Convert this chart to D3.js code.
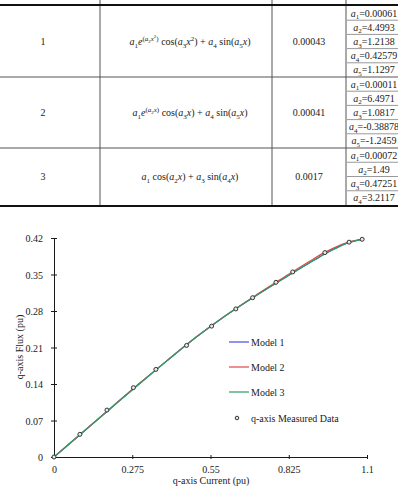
<!DOCTYPE html>
<html>
<head>
<meta charset="utf-8">
<script src="https://cdn.jsdelivr.net/npm/d3@7"></script>
<style>
  body { margin: 0; background: #fff; }
  svg { display: block; font-family: "Liberation Serif", "Times New Roman", serif; }
</style>
</head>
<body>
<svg width="398" height="486"></svg>
<script>
// table data
const modelIds = ["1", "2", "3"];
const formulas = [
  "a_1e^{(a_2x^2)} cos(a_3x^2) + a_4 sin(a_5x)",
  "a_1e^{(a_2x)} cos(a_3x) + a_4 sin(a_5x)",
  "a_1 cos(a_2x) + a_3 sin(a_4x)"
];
const errors = ["0.00043", "0.00041", "0.0017"];
const coefs = [
  ["0.00061", "4.4993", "1.2138", "0.42579", "1.1297"],
  ["0.00011", "6.4971", "1.0817", "-0.38878", "-1.2459"],
  ["0.00072", "1.49", "0.47251", "3.2117"]
];

// chart data
const measX = [0, 0.091, 0.186, 0.279, 0.358, 0.466, 0.554, 0.639, 0.698, 0.780, 0.839, 0.952, 1.037, 1.083];
const measY = [0, 0.0435, 0.090, 0.133, 0.168, 0.214, 0.251, 0.284, 0.3055, 0.335, 0.355, 0.392, 0.412, 0.4175];
const curveX = [0, 0.1, 0.2, 0.3, 0.4, 0.5, 0.6, 0.7, 0.8, 0.9, 0.95, 1.0, 1.04, 1.083];
const model1 = [0, 0.047, 0.094, 0.141, 0.186, 0.230, 0.270, 0.306, 0.340, 0.373, 0.389, 0.403, 0.412, 0.4175];
const model2 = [0, 0.047, 0.094, 0.141, 0.186, 0.230, 0.270, 0.307, 0.342, 0.376, 0.392, 0.405, 0.413, 0.4175];
const model3 = [0, 0.047, 0.094, 0.140, 0.186, 0.230, 0.270, 0.306, 0.340, 0.373, 0.389, 0.403, 0.412, 0.4175];
const modelNames = ["Model 1", "Model 2", "Model 3"];
const modelColors = ["#4a4ae6", "#e04848", "#2a9e64"];
const xTicks = [0, 0.275, 0.55, 0.825, 1.1];
const yTicks = [0, 0.07, 0.14, 0.21, 0.28, 0.35, 0.42];

const svg = d3.select("svg");
const ink = "#1a1a1a";

// ---------- table ----------
const tbl = svg.append("g");
const rowTops = [6, 77, 148, 205];
const colX = [0, 100, 272, 346, 400];

function parse(str, off, scale) {
  let out = [];
  let i = 0;
  while (i < str.length) {
    const c = str[i];
    if (c === "_" || c === "^") {
      let grp, n = str[i + 1];
      if (n === "{") {
        const j = str.indexOf("}", i);
        grp = str.slice(i + 2, j);
        i = j + 1;
      } else {
        grp = n;
        i += 2;
      }
      const shift = c === "^" ? -0.42 : 0.25;
      out = out.concat(parse(grp, off + shift * scale, scale * 0.7));
    } else {
      out.push({ t: c, off: off, scale: scale, it: /[aex]/.test(c) });
      i++;
    }
  }
  return out;
}

function mathText(g, str, x, y, size) {
  const segs = [];
  parse(str, 0, 1).forEach(s => {
    const last = segs[segs.length - 1];
    if (last && last.off === s.off && last.scale === s.scale && last.it === s.it) last.t += s.t;
    else segs.push(Object.assign({}, s));
  });
  const t = g.append("text").attr("x", x).attr("y", y)
    .attr("text-anchor", "middle").attr("fill", ink).attr("font-size", size);
  let cur = 0;
  segs.forEach(s => {
    t.append("tspan")
      .attr("dy", (s.off - cur) * size)
      .attr("font-size", size * s.scale)
      .attr("font-style", s.it ? "italic" : "normal")
      .style("white-space", "pre")
      .text(s.t);
    cur = s.off;
  });
  return t;
}

// column lines
colX.slice(1, 4).forEach(x => {
  tbl.append("line").attr("x1", x).attr("x2", x).attr("y1", 0).attr("y2", 205)
    .attr("stroke", "#555").attr("stroke-width", 1);
});
// row lines
[77, 148].forEach(y => {
  tbl.append("line").attr("x1", 0).attr("x2", 398).attr("y1", y).attr("y2", y)
    .attr("stroke", "#555").attr("stroke-width", 1);
});
[5, 206].forEach(y => {
  tbl.append("line").attr("x1", 0).attr("x2", 398).attr("y1", y).attr("y2", y)
    .attr("stroke", "#111").attr("stroke-width", 2);
});

modelIds.forEach((id, r) => {
  const top = rowTops[r], bot = rowTops[r + 1];
  const mid = (top + bot) / 2;
  tbl.append("text").attr("x", (colX[0] + colX[1]) / 2 - 7).attr("y", mid + 3.5)
    .attr("text-anchor", "middle").attr("font-size", 10).attr("fill", ink).text(id);
  mathText(tbl, formulas[r], (colX[1] + colX[2]) / 2 + 4, mid + 3.5, 10);
  tbl.append("text").attr("x", (colX[2] + colX[3]) / 2).attr("y", mid + 3.5)
    .attr("text-anchor", "middle").attr("font-size", 10).attr("fill", ink).text(errors[r]);
  const h = (bot - top) / coefs[r].length;
  coefs[r].forEach((v, k) => {
    const y0 = top + k * h;
    if (k > 0) {
      tbl.append("line").attr("x1", 347).attr("x2", 398).attr("y1", y0).attr("y2", y0)
        .attr("stroke", "#999").attr("stroke-width", 1);
    }
    mathText(tbl, "a_" + (k + 1) + "=" + v, 374, y0 + h / 2 + 3.5, 10);
  });
});

// ---------- chart ----------
const x = d3.scaleLinear().domain([0, 1.1]).range([54, 367]);
const y = d3.scaleLinear().domain([0, 0.42]).range([457, 238]);

const xAxis = svg.append("g").attr("transform", "translate(0,457)")
  .call(d3.axisBottom(x).tickValues(xTicks).tickSize(2).tickPadding(7).tickFormat(d3.format("")));
xAxis.selectAll(".tick line").attr("y1", -2).attr("y2", 2);

const yAxis = svg.append("g").attr("transform", "translate(54,0)")
  .call(d3.axisLeft(y).tickValues(yTicks).tickSize(3).tickPadding(8).tickFormat(d3.format("")));
yAxis.selectAll(".tick line").attr("x1", -3).attr("x2", 3);

[xAxis, yAxis].forEach(a => {
  a.select(".domain").attr("stroke", ink);
  a.selectAll(".tick line").attr("stroke", ink);
  a.selectAll("text").attr("font-family", "Liberation Serif, serif").attr("font-size", 10).attr("fill", ink);
});
yAxis.selectAll("text").attr("dy", "0.35em");

svg.append("text").attr("x", 211).attr("y", 484).attr("text-anchor", "middle")
  .attr("font-size", 10).attr("fill", ink).text("q-axis Current (pu)");
svg.append("text").attr("transform", "translate(23,347) rotate(-90)").attr("text-anchor", "middle")
  .attr("font-size", 10).attr("fill", ink).text("q-axis Flux (pu)");

const line = d3.line().curve(d3.curveMonotoneX);
[model1, model2, model3].forEach((m, k) => {
  svg.append("path")
    .attr("d", line(curveX.map((cx, i) => [x(cx), y(m[i])])))
    .attr("fill", "none").attr("stroke", modelColors[k]).attr("stroke-width", 1.2);
});

svg.selectAll(".pt").data(measX).join("circle").attr("class", "pt")
  .attr("cx", d => x(d)).attr("cy", (d, i) => y(measY[i])).attr("r", 2)
  .attr("fill", "#e8e8e8").attr("stroke", "#333").attr("stroke-width", 1);

// legend
const leg = svg.append("g");
modelNames.forEach((n, k) => {
  const ly = 342 + k * 25;
  leg.append("line").attr("x1", 229).attr("x2", 249).attr("y1", ly).attr("y2", ly)
    .attr("stroke", modelColors[k]).attr("stroke-width", 1.2);
  leg.append("text").attr("x", 251).attr("y", ly + 3.5).attr("font-size", 10).attr("fill", ink).text(n);
});
leg.append("circle").attr("cx", 237).attr("cy", 418).attr("r", 1.8)
  .attr("fill", "#e8e8e8").attr("stroke", "#333").attr("stroke-width", 1);
leg.append("text").attr("x", 251).attr("y", 421.5).attr("font-size", 10).attr("fill", ink).text("q-axis Measured Data");
</script>
</body>
</html>
